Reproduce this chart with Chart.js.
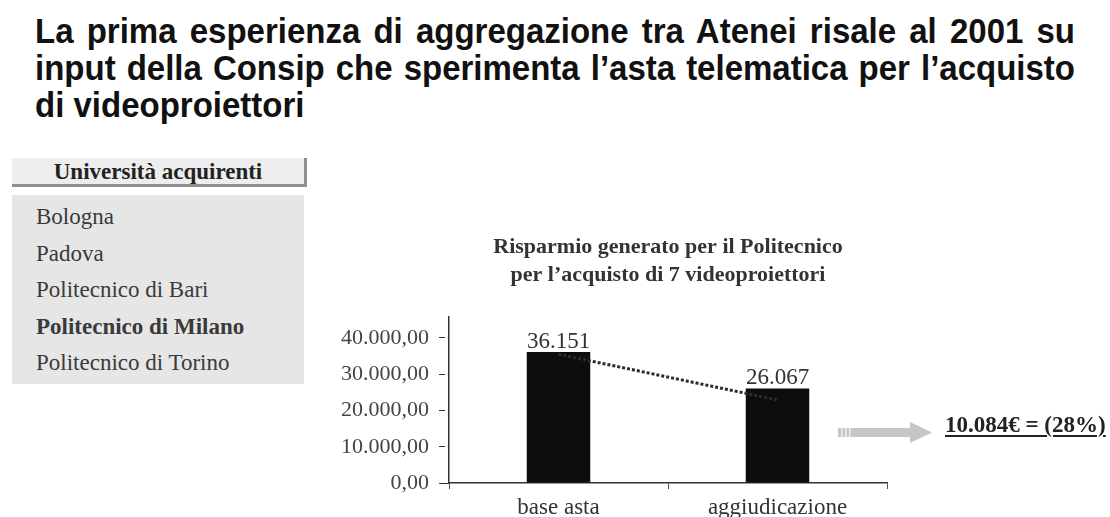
<!DOCTYPE html>
<html lang="it">
<head>
<meta charset="utf-8">
<title>Risparmio generato per il Politecnico</title>
<script src="https://cdn.jsdelivr.net/npm/chart.js@4.4.0/dist/chart.umd.min.js"></script>
<style>
  body { margin: 0; background: #fff; }
  .page { position: relative; width: 1110px; height: 517px; overflow: hidden; }
  .headline {
    position: absolute; left: 35px; top: 13px; width: 1040px;
    font: bold 33px/34px "Liberation Sans", Arial, sans-serif;
    text-align: justify; color: #111;
    transform: scaleY(1.08); transform-origin: 0 0;
  }
  .serif { font-family: "Liberation Serif", "Times New Roman", serif; }
  .uni-head {
    position: absolute; left: 12px; top: 158px; width: 292px; height: 26px;
    background: #ededed; border-right: 3px solid #8f8f8f; border-bottom: 3px solid #8f8f8f;
    font-weight: bold; font-size: 23px; line-height: 27px; text-align: center; color: #222;
  }
  .uni-list {
    position: absolute; left: 12px; top: 195px; width: 292px; height: 189px;
    background: #e6e6e6; margin: 0; padding: 0; list-style: none;
  }
  .uni-list li {
    position: absolute; left: 24px; font-size: 23px; line-height: 26px; color: #3a3a3a;
  }
  #chartBox { position: absolute; left: 320px; top: 225px; }
  .arrow { position: absolute; left: 838px; top: 418px; }
  .saving {
    position: absolute; left: 945px; top: 412px;
    font-weight: bold; font-size: 23px; line-height: 26px; color: #222;
    text-decoration: underline; text-decoration-thickness: 2px; text-underline-offset: 3px;
  }
</style>
</head>
<body>
<div class="page">
  <div class="headline">La prima esperienza di aggregazione tra Atenei risale al 2001 su input della Consip che sperimenta l’asta telematica per l’acquisto di videoproiettori</div>

  <div class="uni-head serif">Università acquirenti</div>
  <ul class="uni-list serif">
    <li style="top:9px">Bologna</li>
    <li style="top:46px">Padova</li>
    <li style="top:82px">Politecnico di Bari</li>
    <li style="top:119px; font-weight:bold">Politecnico di Milano</li>
    <li style="top:155px">Politecnico di Torino</li>
  </ul>

  <canvas id="chartBox" width="590" height="292"></canvas>

  <svg class="arrow" width="95" height="28" viewBox="0 0 95 28">
    <rect x="0" y="10" width="73" height="9" fill="#c6c6c6"/>
    <polygon points="72,4 94,14.5 72,25" fill="#c6c6c6"/>
    <rect x="3" y="10" width="1.5" height="9" fill="#eee"/>
    <rect x="7" y="10" width="1.5" height="9" fill="#eee"/>
    <rect x="11" y="10" width="1.5" height="9" fill="#eee"/>
  </svg>
  <div class="saving serif">10.084€ = (28%)</div>
</div>

<script>
// chart data
const categorie = ['base asta', 'aggiudicazione'];
const importi = [36151, 26067];
const trend = [35500, 22900];
const yTicks = [0, 10000, 20000, 30000, 40000];
const titolo = ['Risparmio generato per il Politecnico', 'per l’acquisto di 7 videoproiettori'];

const SERIF = '"Liberation Serif", "Times New Roman", serif';

function raggruppa(s) {
  return s.replace(/\B(?=(\d{3})+(?!\d))/g, '.');
}
function fmtEuro(v) {
  const parts = v.toFixed(2).split('.');
  return raggruppa(parts[0]) + ',' + parts[1];
}

// numbers above the bars
const valueLabels = {
  id: 'valueLabels',
  afterDatasetsDraw(chart) {
    const meta = chart.getDatasetMeta(0);
    const ctx = chart.ctx;
    ctx.save();
    ctx.font = '23px ' + SERIF;
    ctx.fillStyle = '#333';
    ctx.textAlign = 'center';
    ctx.textBaseline = 'alphabetic';
    meta.data.forEach((bar, i) => {
      ctx.fillText(raggruppa(String(importi[i])), bar.x, bar.y - 4);
    });
    ctx.restore();
  }
};

new Chart(document.getElementById('chartBox'), {
  data: {
    labels: categorie,
    datasets: [
      {
        type: 'bar',
        data: importi,
        backgroundColor: '#0d0d0d',
        categoryPercentage: 1,
        barPercentage: 0.29,
        order: 2
      },
      {
        type: 'line',
        data: trend,
        borderColor: '#2b2b2b',
        borderWidth: 3,
        borderDash: [3, 2],
        pointRadius: 0,
        fill: false,
        order: 1
      }
    ]
  },
  options: {
    responsive: false,
    animation: false,
    layout: { padding: { left: 0, right: 23, top: 0, bottom: 0 } },
    scales: {
      x: {
        offset: true,
        border: { color: '#333', width: 1.5 },
        grid: { drawOnChartArea: false, tickLength: 6, color: '#555' },
        ticks: { color: '#333', padding: 5, font: { family: SERIF, size: 23 } },
        afterFit(scale) { scale.height = 34; }
      },
      y: {
        min: 0,
        max: 45800,
        border: { color: '#333', width: 1.5 },
        grid: {
          drawOnChartArea: false,
          tickLength: 10,
          tickColor: '#333',
          tickBorderDash: (c) => (c.tick && c.tick.value === 0 ? [] : [6, 4])
        },
        ticks: {
          color: '#444',
          padding: 10,
          font: { family: SERIF, size: 22 },
          callback: (v) => fmtEuro(v)
        },
        afterBuildTicks(scale) { scale.ticks = yTicks.map(v => ({ value: v })); },
        afterFit(scale) { scale.width = 129; }
      }
    },
    plugins: {
      legend: { display: false },
      tooltip: { enabled: false },
      title: {
        display: true,
        fullSize: false,
        text: titolo,
        color: '#333',
        font: { family: SERIF, size: 22, weight: 'bold', lineHeight: 1.27 },
        padding: { top: 8, bottom: 28 }
      }
    }
  },
  plugins: [valueLabels]
});
</script>
</body>
</html>
